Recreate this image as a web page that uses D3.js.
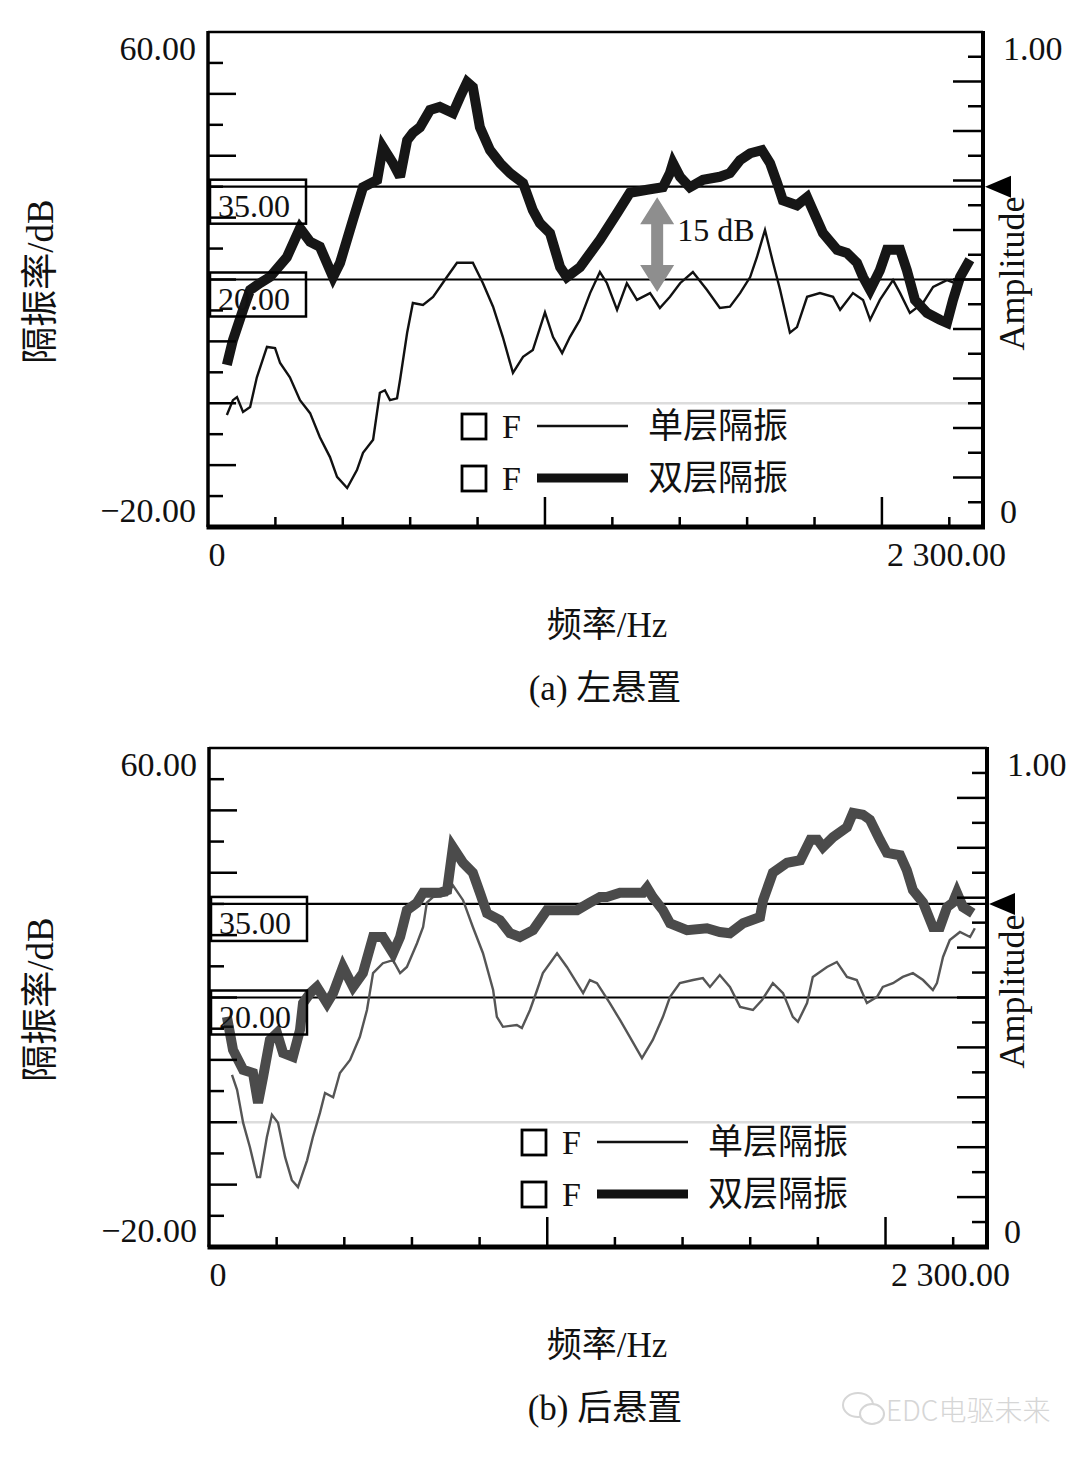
<!DOCTYPE html>
<html><head><meta charset="utf-8">
<script src="https://cdn.jsdelivr.net/npm/d3@7"></script>
<style>
html,body{margin:0;padding:0;background:#fff;}
svg{display:block;}
text{font-family:"Liberation Serif","Times New Roman","Noto Sans CJK SC",serif;fill:#111;}
</style></head><body>
<svg id="c" width="1080" height="1458"></svg>
<script>
// ---------- data ----------
const freqDomain = [0, 2300];
const dbDomain = [-20, 60];
const ampDomain = [0, 1];
const xTickValues = d3.range(0, 2300, 200);          // 0 ... 2200 Hz
const xMajorTicks = [1000, 2000];
const yTickValues = d3.range(-20, 61, 5);
const ampTickValues = d3.range(0, 20.5, 1).map(d => d / 20);
const xTickLabels = ["0", "2 300.00"];
const yTickLabels = ["60.00", "\u221220.00"];
const ampTickLabels = ["1.00", "0"];
const refLevels = [35, 20];
const refLabels = ["35.00", "20.00"];
const legendLabels = ["单层隔振", "双层隔振"];
const captions = ["(a) 左悬置", "(b) 后悬置"];

// [frequency Hz, isolation dB]
const leftSingle = [[56,-1.9],[74,0.5],[86,1.0],[104,-1.4],[125,-0.6],[145,4.2],[175,9.1],[199,8.9],[214,6.5],[243,4.2],[273,0.5],[303,-1.6],[332,-5.5],[362,-8.7],[383,-11.9],[413,-13.7],[442,-10.8],[460,-8.0],[490,-5.9],[510,1.7],[525,2.1],[540,0.5],[561,0.8],[570,3.8],[591,11.4],[608,16.2],[638,15.9],[668,17.2],[709,20.4],[739,22.7],[786,22.7],[816,19.4],[846,15.6],[875,10.7],[905,4.9],[935,7.5],[964,8.6],[1000,14.7],[1024,10.7],[1051,8.1],[1074,10.7],[1104,13.5],[1134,17.8],[1163,21.2],[1184,19.4],[1214,15.1],[1243,19.4],[1273,16.7],[1312,17.8],[1341,15.4],[1371,17.2],[1401,19.4],[1439,21.2],[1481,18.3],[1519,15.4],[1549,15.6],[1579,17.8],[1609,20.4],[1629,23.6],[1653,28.0],[1677,22.7],[1698,18.3],[1727,11.4],[1748,12.3],[1778,17.2],[1816,17.8],[1855,17.2],[1876,15.1],[1914,17.8],[1944,16.7],[1965,13.5],[1994,16.7],[2033,19.9],[2054,17.8],[2083,14.6],[2122,16.2],[2152,18.8],[2193,19.9],[2217,19.4]];
const leftDouble = [[56,6.2],[74,10.2],[104,15.1],[125,18.3],[154,19.4],[184,20.4],[234,23.6],[273,28.3],[303,26.1],[332,25.3],[371,20.4],[392,22.7],[430,29.6],[460,34.9],[502,36.1],[519,41.4],[549,38.8],[570,36.6],[591,42.5],[608,43.7],[629,44.6],[659,47.4],[688,47.9],[727,46.9],[748,49.5],[769,51.9],[786,51.1],[807,44.6],[837,40.9],[867,38.8],[896,37.2],[935,35.6],[964,31.2],[985,29.1],[1015,27.5],[1045,22.0],[1065,20.4],[1104,22.0],[1163,26.4],[1214,30.7],[1252,34.0],[1303,34.5],[1350,34.9],[1371,37.2],[1380,38.8],[1401,36.6],[1430,34.9],[1469,36.1],[1519,36.6],[1549,37.2],[1579,39.3],[1609,40.4],[1644,40.9],[1668,38.8],[1689,35.6],[1706,32.8],[1748,32.0],[1778,33.3],[1795,31.2],[1825,27.5],[1867,24.8],[1896,24.3],[1926,22.7],[1944,20.4],[1965,18.3],[1994,21.5],[2015,24.8],[2054,24.8],[2074,21.5],[2098,16.7],[2134,14.6],[2172,13.5],[2193,13.0],[2211,16.7],[2232,20.4],[2261,23.2]];
const rearSingle = [[68,7.6],[83,5.2],[101,-0.1],[121,-4.0],[142,-8.8],[151,-8.8],[171,-2.4],[186,1.2],[204,-0.1],[225,-5.6],[245,-9.3],[263,-10.4],[290,-6.1],[307,-2.4],[328,1.5],[343,4.7],[367,4.0],[387,7.9],[417,10.0],[446,13.7],[467,18.0],[485,23.9],[514,25.5],[544,26.0],[565,23.9],[585,24.9],[615,28.7],[633,31.3],[644,35.2],[662,36.1],[704,36.4],[721,38.0],[751,35.6],[780,31.3],[810,27.1],[840,21.2],[851,16.9],[869,15.3],[910,15.6],[925,15.1],[949,18.0],[970,21.2],[987,23.9],[1029,27.1],[1058,24.9],[1106,20.7],[1126,22.8],[1147,22.3],[1185,19.1],[1215,16.4],[1244,13.7],[1280,10.3],[1312,13.2],[1342,16.9],[1363,20.1],[1392,22.3],[1431,22.8],[1460,23.1],[1481,21.7],[1510,23.6],[1540,21.7],[1570,18.5],[1608,18.0],[1635,19.6],[1667,22.3],[1697,20.7],[1726,16.9],[1741,16.1],[1768,19.1],[1785,23.3],[1827,24.9],[1856,25.7],[1886,23.3],[1915,22.8],[1945,19.1],[1975,20.1],[1992,21.7],[2022,22.3],[2051,23.3],[2081,23.9],[2111,22.8],[2140,21.2],[2152,22.3],[2170,26.5],[2190,29.2],[2220,30.5],[2250,29.7],[2264,31.1]];
const rearDouble = [[53,16.9],[71,11.6],[101,8.4],[130,7.9],[145,3.1],[160,7.3],[180,13.2],[201,14.3],[219,11.1],[248,10.5],[269,14.8],[278,19.1],[299,20.7],[319,21.7],[349,19.1],[367,20.7],[396,24.9],[426,21.7],[455,23.9],[485,29.7],[514,29.7],[544,27.1],[565,29.7],[585,34.0],[615,35.2],[633,36.8],[683,36.8],[704,37.2],[721,44.1],[751,41.6],[780,40.0],[801,36.8],[822,33.5],[860,32.4],[890,30.3],[919,29.7],[958,30.8],[999,34.0],[1038,34.0],[1088,34.0],[1126,35.2],[1156,36.1],[1176,36.1],[1215,36.8],[1283,36.8],[1295,37.6],[1312,36.1],[1342,34.0],[1363,31.9],[1413,30.8],[1472,31.1],[1510,30.5],[1540,30.3],[1579,31.9],[1629,32.9],[1638,35.6],[1667,40.0],[1709,41.6],[1748,42.0],[1778,45.3],[1799,45.3],[1815,44.1],[1845,45.7],[1886,47.3],[1904,49.6],[1933,49.3],[1954,48.5],[1983,45.3],[2004,43.2],[2043,42.8],[2063,40.4],[2081,37.2],[2111,35.2],[2140,31.3],[2161,31.3],[2182,34.5],[2199,35.2],[2211,36.8],[2229,34.5],[2258,33.5]];
// annotation: 15 dB gap
const gapAnnotation = {freq: 1333, top: 33.3, bottom: 18.0, label: "15 dB"};

// ---------- layout ----------
const panels = [
  {x0:208, x1:983, y0:32, y1:527, single:leftSingle, double:leftDouble,
   thinColor:"#111", thickColor:"#161616", legendX:462, legendY:[426,478], caption:captions[0], annot:true},
  {x0:209, x1:987, y0:748, y1:1247, single:rearSingle, double:rearDouble,
   thinColor:"#555", thickColor:"#4b4b4b", legendX:522, legendY:[1142,1194], caption:captions[1], annot:false}
];

const svg = d3.select("#c");
const FS = 34;

panels.forEach(p => {
  const g = svg.append("g");
  const x = d3.scaleLinear().domain(freqDomain).range([p.x0, p.x1]);
  const y = d3.scaleLinear().domain(dbDomain).range([p.y1, p.y0]);
  const ya = d3.scaleLinear().domain(ampDomain).range([p.y1, p.y0]);

  // zero dB light line
  g.append("line").attr("x1", p.x0).attr("x2", p.x1)
    .attr("y1", y(0)).attr("y2", y(0)).attr("stroke", "#dcdcdc").attr("stroke-width", 2.5);

  // reference lines
  refLevels.forEach(v => {
    g.append("line").attr("x1", p.x0).attr("x2", p.x1)
      .attr("y1", y(v)).attr("y2", y(v)).attr("stroke", "#000").attr("stroke-width", 2.2);
  });

  const line = d3.line().x(d => x(d[0])).y(d => y(d[1])).curve(d3.curveLinear);
  g.append("path").datum(p.single).attr("d", line).attr("fill", "none")
    .attr("stroke", p.thinColor).attr("stroke-width", 2.4).attr("stroke-linejoin", "miter");
  g.append("path").datum(p.double).attr("d", line).attr("fill", "none")
    .attr("stroke", p.thickColor).attr("stroke-width", 10).attr("stroke-linejoin", "miter")
    .attr("stroke-miterlimit", 3);

  // reference boxes
  refLevels.forEach((v, i) => {
    g.append("rect").attr("x", p.x0 + 2).attr("y", y(v) - 7).attr("width", 96).attr("height", 44)
      .attr("fill", "none").attr("stroke", "#000").attr("stroke-width", 2.5);
    g.append("text").attr("x", p.x0 + 10).attr("y", y(v) + 30).attr("font-size", FS - 2)
      .text(refLabels[i]);
  });

  // left ticks
  yTickValues.forEach(v => {
    if (v === -20 || v === 60) return;
    const len = (v % 10 === 0) ? 28 : 15;
    g.append("line").attr("x1", p.x0).attr("x2", p.x0 + len).attr("y1", y(v)).attr("y2", y(v))
      .attr("stroke", "#000").attr("stroke-width", 2.5);
  });
  // right ticks
  ampTickValues.forEach((v, i) => {
    if (i === 0 || i === 20) return;
    const len = (i % 2 === 0) ? 30 : 15;
    g.append("line").attr("x1", p.x1 - len).attr("x2", p.x1).attr("y1", ya(v)).attr("y2", ya(v))
      .attr("stroke", "#000").attr("stroke-width", 2.5);
  });
  // bottom ticks
  xTickValues.forEach(v => {
    if (v === 0) return;
    const len = xMajorTicks.includes(v) ? 30 : 10;
    g.append("line").attr("x1", x(v)).attr("x2", x(v)).attr("y1", p.y1).attr("y2", p.y1 - len)
      .attr("stroke", "#000").attr("stroke-width", 2.5);
  });

  // frame
  g.append("line").attr("x1", p.x0).attr("x2", p.x1).attr("y1", p.y0).attr("y2", p.y0)
    .attr("stroke", "#000").attr("stroke-width", 2.5);
  g.append("line").attr("x1", p.x0).attr("x2", p.x0).attr("y1", p.y0 - 1).attr("y2", p.y1)
    .attr("stroke", "#000").attr("stroke-width", 3.5);
  g.append("line").attr("x1", p.x1).attr("x2", p.x1).attr("y1", p.y0 - 1).attr("y2", p.y1 + 2)
    .attr("stroke", "#000").attr("stroke-width", 4);
  g.append("line").attr("x1", p.x0 - 1.5).attr("x2", p.x1 + 2).attr("y1", p.y1).attr("y2", p.y1)
    .attr("stroke", "#000").attr("stroke-width", 5);

  // marker triangle at right, level 35
  const ty = y(refLevels[0]);
  g.append("path").attr("d", `M${p.x1 + 2},${ty} L${p.x1 + 28},${ty - 11} L${p.x1 + 28},${ty + 11} Z`)
    .attr("fill", "#000");

  // axis labels
  g.append("text").attr("x", p.x0 - 12).attr("y", p.y0 + 28).attr("text-anchor", "end")
    .attr("font-size", FS).text(yTickLabels[0]);
  g.append("text").attr("x", p.x0 - 12).attr("y", p.y1 - 5).attr("text-anchor", "end")
    .attr("font-size", FS).text(yTickLabels[1]);
  g.append("text").attr("x", p.x1 + 20).attr("y", p.y0 + 28).attr("font-size", FS).text(ampTickLabels[0]);
  g.append("text").attr("x", p.x1 + 17).attr("y", p.y1 - 4).attr("font-size", FS).text(ampTickLabels[1]);
  g.append("text").attr("x", x(0) + 9).attr("y", p.y1 + 39).attr("text-anchor", "middle")
    .attr("font-size", FS).text(xTickLabels[0]);
  g.append("text").attr("x", p.x1 + 23).attr("y", p.y1 + 39).attr("text-anchor", "end")
    .attr("font-size", FS).text(xTickLabels[1]);

  const midY = (p.y0 + p.y1) / 2;
  g.append("text").attr("transform", `translate(40,${midY + 2}) rotate(-90)`)
    .attr("text-anchor", "middle").attr("dominant-baseline", "central")
    .attr("font-size", 37).text("隔振率/dB");
  g.append("text").attr("transform", `translate(1012,${midY - 6}) rotate(-90)`)
    .attr("text-anchor", "middle").attr("dominant-baseline", "central")
    .attr("font-size", 36).text("Amplitude");
  g.append("text").attr("x", 607).attr("y", p.y1 + 110).attr("text-anchor", "middle")
    .attr("font-size", 35).text("频率/Hz");
  g.append("text").attr("x", 605).attr("y", p.y1 + 173).attr("text-anchor", "middle")
    .attr("font-size", 35).text(p.caption);

  // legend
  legendLabels.forEach((lab, i) => {
    const cy = p.legendY[i];
    const lx = p.legendX;
    g.append("rect").attr("x", lx).attr("y", cy - 12).attr("width", 24).attr("height", 25)
      .attr("fill", "#fff").attr("stroke", "#000").attr("stroke-width", 2.8);
    g.append("text").attr("x", lx + 40).attr("y", cy + 12).attr("font-size", FS).text("F");
    g.append("line").attr("x1", lx + 75).attr("x2", lx + 166).attr("y1", cy).attr("y2", cy)
      .attr("stroke", "#111").attr("stroke-width", i === 0 ? 2.4 : 9);
    g.append("text").attr("x", lx + 186).attr("y", cy + 12).attr("font-size", 35).text(lab);
  });

  // annotation
  if (p.annot) {
    const ax = x(gapAnnotation.freq);
    const yt = y(gapAnnotation.top), yb = y(gapAnnotation.bottom);
    const hw = 17, sw = 6, hl = 27;
    g.append("path").attr("d",
      `M${ax},${yt} L${ax + hw},${yt + hl} L${ax + sw},${yt + hl} L${ax + sw},${yb - hl} L${ax + hw},${yb - hl}
       L${ax},${yb} L${ax - hw},${yb - hl} L${ax - sw},${yb - hl} L${ax - sw},${yt + hl} L${ax - hw},${yt + hl} Z`)
      .attr("fill", "#8e8e8e");
    g.append("text").attr("x", ax + 20).attr("y", y(gapAnnotation.top) + 44).attr("font-size", FS - 2)
      .text(gapAnnotation.label);
  }
});

// watermark
const wm = svg.append("g").attr("opacity", 0.85);
wm.append("ellipse").attr("cx", 858).attr("cy", 1405).attr("rx", 15).attr("ry", 12)
  .attr("fill", "none").attr("stroke", "#cfcfcf").attr("stroke-width", 2);
wm.append("ellipse").attr("cx", 872).attr("cy", 1414).attr("rx", 12).attr("ry", 10)
  .attr("fill", "#fff").attr("stroke", "#cfcfcf").attr("stroke-width", 2);
wm.append("text").attr("x", 886).attr("y", 1421).attr("font-size", 28)
  .style("font-family", "'Noto Sans CJK SC', 'DejaVu Sans', sans-serif").style("font-weight", 300)
  .attr("fill", "#cfcfcf").style("fill", "#cfcfcf").text("EDC电驱未来");
</script>
</body></html>
